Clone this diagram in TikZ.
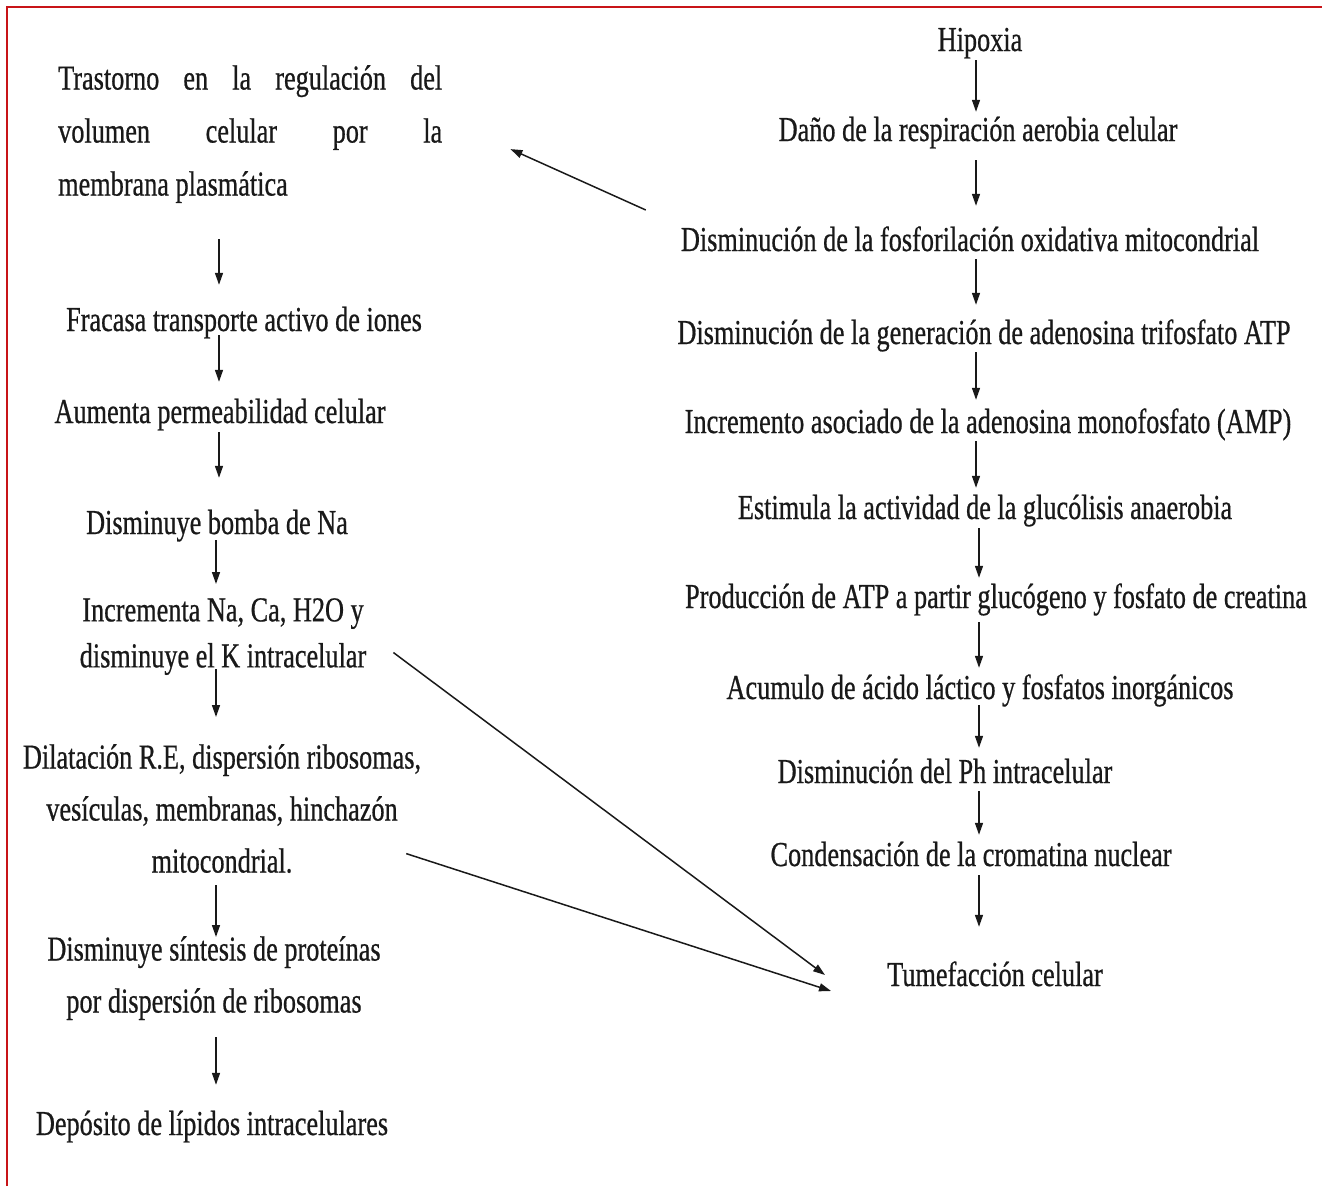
\documentclass[tikz,border=0pt]{standalone}
\usepackage{fontspec}
\setmainfont[FakeStretch=0.75,FakeBold=0.6]{Liberation Serif}
\usetikzlibrary{arrows.meta,calc}
\definecolor{frame}{RGB}{200,20,24}
\definecolor{ink}{RGB}{25,25,25}
\tikzset{
  txt/.style={inner sep=0pt, anchor=base, text=ink, font=\fontsize{35}{52}\selectfont, text height=24pt, text depth=8pt},
  mtxt/.style={inner sep=0pt, anchor=north, text=ink, align=center},
  arr/.style={draw=ink, line width=1.5pt, -{Triangle[length=12pt,width=8pt]}},
}
\begin{document}
\begin{tikzpicture}[x=1pt,y=-1pt]
\useasboundingbox (0,0) rectangle (1322,1186);
\draw[frame, line width=2.5pt] (7,1186) -- (7,7) -- (1322,7);

% right column
\node[txt] (hip) at (980,51) {Hipoxia};
\node[txt] (dano) at (978,141) {Daño de la respiración aerobia celular};
\node[txt] (dfos) at (970,251) {Disminución de la fosforilación oxidativa mitocondrial};
\node[txt] (dgen) at (984,344) {Disminución de la generación de adenosina trifosfato ATP};
\node[txt] (incr) at (988,433) {Incremento asociado de la adenosina monofosfato (AMP)};
\node[txt] (estim) at (985,519) {Estimula la actividad de la glucólisis anaerobia};
\node[txt] (prod) at (996,608) {Producción de ATP a partir glucógeno y fosfato de creatina};
\node[txt] (acum) at (980,699) {Acumulo de ácido láctico y fosfatos inorgánicos};
\node[txt] (dph) at (945,783) {Disminución del Ph intracelular};
\node[txt] (cond) at (971,866) {Condensación de la cromatina nuclear};
\node[txt] (tumef) at (995,986) {Tumefacción celular};

% left column
\node[mtxt, anchor=north west, font=\fontsize{35}{53}\selectfont, align=left] (tras) at (58,65)
  {\makebox[384pt][s]{Trastorno\hfill en\hfill la\hfill regulación\hfill del}\\
   \makebox[384pt][s]{volumen\hfill celular\hfill por\hfill la}\\
   membrana plasmática};
\node[txt] (frac) at (244,331) {Fracasa transporte activo de iones};
\node[txt] (aum) at (220,423) {Aumenta permeabilidad celular};
\node[txt] (dbom) at (217,534) {Disminuye bomba de Na};
\node[mtxt, font=\fontsize{35}{46}\selectfont] (inc) at (223,598)
  {Incrementa Na, Ca, H2O y\\ disminuye el K intracelular};
\node[mtxt, font=\fontsize{35}{52}\selectfont] (dil) at (222,744)
  {Dilatación R.E, dispersión ribosomas,\\ vesículas, membranas, hinchazón\\ mitocondrial.};
\node[mtxt, font=\fontsize{35}{52}\selectfont] (dsin) at (214,936)
  {Disminuye síntesis de proteínas\\ por dispersión de ribosomas};
\node[txt] (dep) at (212,1135) {Depósito de lípidos intracelulares};

% right arrows
\coordinate (cR) at (976,0);
\coordinate (cR2) at (979,0);
\draw[arr, shorten <=1pt, shorten >=5pt] (hip.south -| cR) -- (dano.north -| cR);
\draw[arr, shorten <=11pt, shorten >=21pt] (dano.south -| cR) -- (dfos.north -| cR);
\draw[arr, shorten <=0pt, shorten >=15pt] (dfos.south -| cR) -- (dgen.north -| cR);
\draw[arr, shorten <=0pt, shorten >=9pt] (dgen.south -| cR) -- (incr.north -| cR);
\draw[arr, shorten <=0pt, shorten >=7pt] (incr.south -| cR) -- (estim.north -| cR);
\draw[arr, shorten <=1pt, shorten >=6pt] (estim.south -| cR2) -- (prod.north -| cR2);
\draw[arr, shorten <=6pt, shorten >=7pt] (prod.south -| cR2) -- (acum.north -| cR2);
\draw[arr, shorten <=-2pt, shorten >=11pt] (acum.south -| cR2) -- (dph.north -| cR2);
\draw[arr, shorten <=0pt, shorten >=7pt] (dph.south -| cR2) -- (cond.north -| cR2);
\draw[arr, shorten <=1pt, shorten >=35pt] (cond.south -| cR2) -- (tumef.north -| cR2);

% left arrows
\coordinate (cL) at (219,0);
\coordinate (cL2) at (216,0);
\draw[arr, shorten <=36pt, shorten >=22pt] (tras.south -| cL) -- (frac.north -| cL);
\draw[arr, shorten <=-4pt, shorten >=17pt] (frac.south -| cL) -- (aum.north -| cL);
\draw[arr, shorten <=1pt, shorten >=32pt] (aum.south -| cL) -- (dbom.north -| cL);
\draw[arr, shorten <=-2pt, shorten >=14pt] (dbom.south -| cL2) -- (inc.north -| cL2);
\draw[arr, shorten <=-6pt, shorten >=27pt] (inc.south -| cL2) -- (dil.north -| cL2);
\draw[arr, shorten <=12pt, shorten >=-1pt] (dil.south -| cL2) -- (dsin.north -| cL2);
\draw[arr, shorten <=17pt, shorten >=26pt] (dsin.south -| cL2) -- (dep.north -| cL2);

% diagonal arrows
\draw[arr] ($(dfos.west)+(-35,-33)$) -- ($(tras.east)+(68,15)$);
\draw[arr] ($(inc.east)+(27,16)$) -- ($(tumef.west)+(-62,-3)$);
\draw[arr] ($(dil.east)+(-15,45)$) -- ($(tumef.west)+(-56,13)$);
\end{tikzpicture}
\end{document}
